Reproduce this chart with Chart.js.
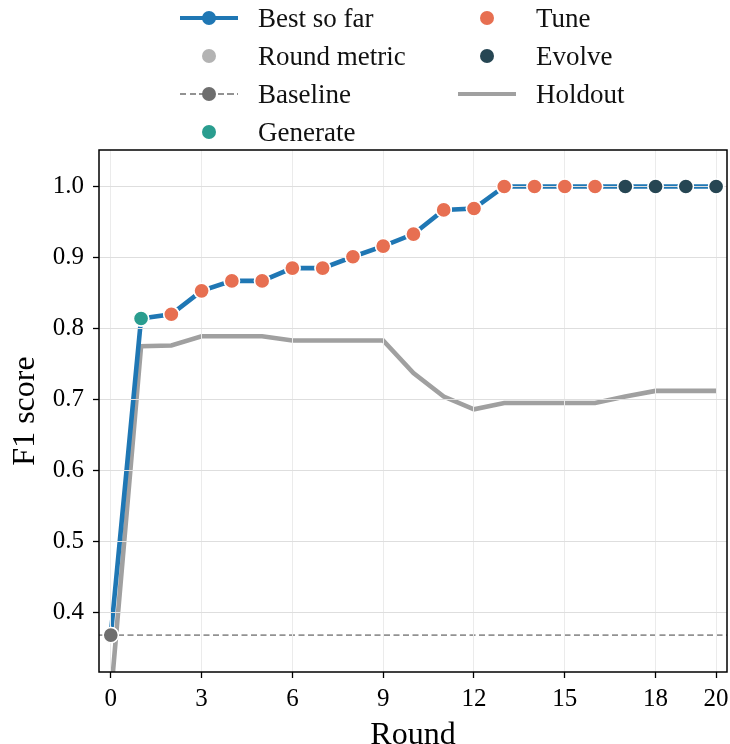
<!DOCTYPE html>
<html>
<head>
<meta charset="utf-8">
<script src="https://cdn.jsdelivr.net/npm/chart.js@4.4.1/dist/chart.umd.min.js"></script>
<style>
  html, body { margin: 0; padding: 0; background: #fff; overflow: hidden; }
  #wrap { position: relative; width: 730px; height: 744px; }
  #c { display: block; }
  #legend { position: absolute; left: 0; top: 0; width: 730px; height: 150px; font-family: 'Liberation Serif', 'Times New Roman', serif; font-size: 27px; color: #111; }
  .item { position: absolute; height: 38px; display: flex; align-items: center; white-space: nowrap; }
  .icon { position: absolute; }
</style>
</head>
<body>
<div id="wrap">
  <canvas id="c"></canvas>
  <div id="legend"></div>
</div>
<script>
// ---- data ----
const rounds = [0,1,2,3,4,5,6,7,8,9,10,11,12,13,14,15,16,17,18,19,20];
const bestSoFar = [0.368,0.814,0.820,0.853,0.867,0.867,0.885,0.885,0.901,0.916,0.933,0.967,0.969,1.0,1.0,1.0,1.0,1.0,1.0,1.0,1.0];
const roundMetric = [0.368,0.814,0.820,0.853,0.867,0.867,0.885,0.885,0.901,0.916,0.933,0.967,0.969,1.0,1.0,1.0,1.0,1.0,1.0,1.0,1.0];
const holdout = [0.281,0.775,0.776,0.789,0.789,0.789,0.783,0.783,0.783,0.783,0.737,0.704,0.686,0.695,0.695,0.695,0.695,0.704,0.712,0.712,0.712];
const phases = ['baseline','generate','tune','tune','tune','tune','tune','tune','tune','tune','tune','tune','tune','tune','tune','tune','tune','evolve','evolve','evolve','evolve'];
const baselineValue = 0.368;
const xTicks = [0,3,6,9,12,15,18,20];
const yTicks = [0.4,0.5,0.6,0.7,0.8,0.9,1.0];
const xRange = [-0.39, 20.36];
const yRange = [0.316, 1.0514];

const COL = {
  best: '#1f77b4', round: '#b3b3b3', baseline: '#6e6e6e', baseLine: '#929292',
  generate: '#2a9d8f', tune: '#e76f51', evolve: '#264653', holdout: '#a0a0a0'
};
const FONT = "'Liberation Serif', 'Times New Roman', serif";

const pts = (ys) => rounds.map((r, i) => ({x: r, y: ys[i]}));
const phasePts = (p) => rounds.map((r, i) => phases[i] === p ? {x: r, y: roundMetric[i]} : null).filter(Boolean);

function markerDs(label, data, color) {
  return { label, data, showLine: false, isMarker: true, order: 0,
    pointRadius: 7.6, pointHoverRadius: 7.6, pointBackgroundColor: color,
    pointBorderColor: '#ffffff', pointBorderWidth: 1.5, borderColor: color, backgroundColor: color };
}

const datasets = [
  markerDs('Generate', phasePts('generate'), COL.generate),
  markerDs('Tune', phasePts('tune'), COL.tune),
  markerDs('Evolve', phasePts('evolve'), COL.evolve),
  markerDs('Baseline', [{x: 0, y: baselineValue}], COL.baseline),
  { label: 'Round metric', data: pts(roundMetric), showLine: false, order: 1,
    pointRadius: 5, pointBackgroundColor: COL.round, pointBorderWidth: 0, borderColor: COL.round },
  { label: 'Best so far', data: pts(bestSoFar), order: 2, borderColor: COL.best, borderWidth: 4.6,
    pointRadius: 0, tension: 0, clip: 0 },
  { label: 'Holdout', data: pts(holdout), order: 3, borderColor: COL.holdout, borderWidth: 4.6,
    pointRadius: 0, tension: 0, clip: 0 },
  { label: 'Baseline line', data: [{x: xRange[0], y: baselineValue}, {x: xRange[1], y: baselineValue}],
    order: 4, borderColor: COL.baseLine, borderWidth: 1.6, borderDash: [6, 3.5], pointRadius: 0, clip: 0 }
];

const noPad = () => ({ left: 0, right: 0, top: 0, bottom: 0 });
const overlay = {
  id: 'overlay',
  beforeLayout(chart) {
    Object.values(chart.scales).forEach(s => { s.getPadding = noPad; });
  },
  afterDraw(chart) {
    chart.data.datasets.forEach((ds, i) => {
      if (ds.isMarker) chart.getDatasetMeta(i).controller.draw();
    });
    const a = chart.chartArea, ctx = chart.ctx;
    ctx.save();
    ctx.strokeStyle = '#000';
    ctx.lineWidth = 1.5;
    ctx.strokeRect(a.left, a.top, a.right - a.left, a.bottom - a.top);
    ctx.restore();
  }
};

new Chart(document.getElementById('c'), {
  type: 'line',
  data: { datasets },
  plugins: [overlay],
  options: {
    responsive: true, maintainAspectRatio: false, animation: false,
    layout: { autoPadding: false, padding: { top: 150, right: 3, left: 0, bottom: 0 } },
    plugins: { legend: { display: false }, tooltip: { enabled: false } },
    scales: {
      x: {
        type: 'linear', min: xRange[0], max: xRange[1],
        afterBuildTicks: (s) => { s.ticks = xTicks.map(v => ({value: v})); },
        afterFit: (s) => { s.height = 72; s.paddingLeft = 0; s.paddingRight = 0; },
        grid: { color: '#ebebeb', lineWidth: 1, z: 1, tickColor: '#000', tickLength: 6, tickWidth: 1.3 },
        border: { display: false },
        ticks: { color: '#000', font: { family: FONT, size: 25 }, padding: 6, maxRotation: 0,
          callback: (v) => String(v) },
        title: { display: true, text: 'Round', color: '#000', font: { family: FONT, size: 32, lineHeight: 0.55 }, padding: { top: 0, bottom: 0 } }
      },
      y: {
        type: 'linear', min: yRange[0], max: yRange[1],
        afterBuildTicks: (s) => { s.ticks = yTicks.map(v => ({value: v})); },
        afterFit: (s) => { s.width = 99; s.paddingTop = 0; s.paddingBottom = 0; },
        grid: { color: '#dedede', lineWidth: 1, z: 1, tickColor: '#000', tickLength: 6, tickWidth: 1.3 },
        border: { display: false },
        ticks: { color: '#000', font: { family: FONT, size: 25 }, padding: 9,
          callback: (v) => Number(v).toFixed(1) },
        title: { display: true, text: 'F1 score', color: '#000', font: { family: FONT, size: 32, lineHeight: 0.75 }, padding: { top: 14, bottom: 0 } }
      }
    }
  }
});

// ---- HTML legend ----
const legendItems = [
  { label: 'Best so far', col: 0, row: 0, type: 'lineMarker', color: COL.best },
  { label: 'Round metric', col: 0, row: 1, type: 'marker', color: COL.round },
  { label: 'Baseline', col: 0, row: 2, type: 'dashMarker', color: COL.baseline, lineColor: COL.baseLine },
  { label: 'Generate', col: 0, row: 3, type: 'marker', color: COL.generate },
  { label: 'Tune', col: 1, row: 0, type: 'marker', color: COL.tune },
  { label: 'Evolve', col: 1, row: 1, type: 'marker', color: COL.evolve },
  { label: 'Holdout', col: 1, row: 2, type: 'line', color: COL.holdout }
];
const colIcon = [209, 487], colText = [258, 536], rowY = [18, 56, 94, 132];
const leg = document.getElementById('legend');
legendItems.forEach(it => {
  const cx = colIcon[it.col], cy = rowY[it.row];
  const add = (css) => { const d = document.createElement('div'); d.className = 'icon'; Object.assign(d.style, css); leg.appendChild(d); };
  if (it.type === 'lineMarker' || it.type === 'line') {
    add({ left: (cx - 29) + 'px', top: (cy - 2.25) + 'px', width: '58px', height: '4.5px', background: it.color });
  }
  if (it.type === 'dashMarker') {
    add({ left: (cx - 29) + 'px', top: (cy - 0.75) + 'px', width: '58px', height: '1.5px',
      background: 'repeating-linear-gradient(90deg, ' + it.lineColor + ' 0 6px, transparent 6px 9.5px)' });
  }
  if (it.type !== 'line') {
    add({ left: (cx - 7) + 'px', top: (cy - 7) + 'px', width: '14px', height: '14px', borderRadius: '50%', background: it.color });
  }
  const t = document.createElement('div');
  t.className = 'item';
  t.textContent = it.label;
  t.style.left = colText[it.col] + 'px';
  t.style.top = (cy - 19) + 'px';
  leg.appendChild(t);
});
</script>
</body>
</html>
